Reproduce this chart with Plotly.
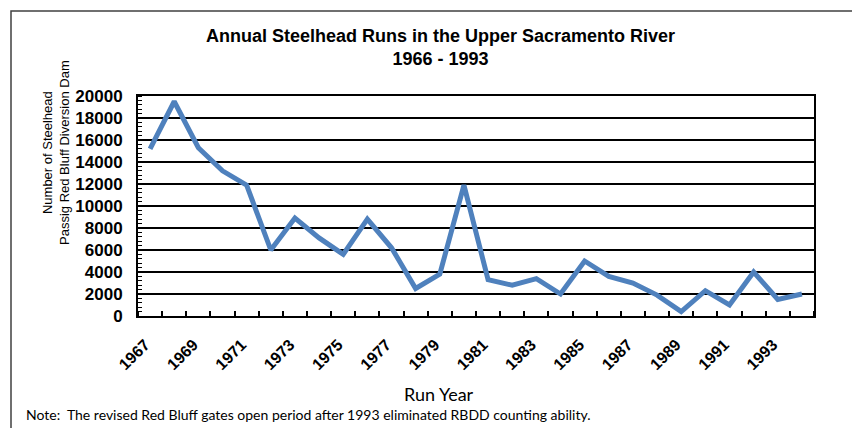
import plotly.graph_objects as go

years = list(range(1967, 1995))
runs = [15200, 19500, 15300, 13200, 11900, 6000, 8900, 7100, 5600, 8800,
        6200, 2500, 3800, 11900, 3300, 2800, 3400, 2000, 5000, 3600,
        3000, 1900, 400, 2300, 1000, 4000, 1500, 2000]
label_years = list(range(1967, 1995, 2))
label_text = [str(y) for y in label_years]
y_ticks = list(range(0, 20001, 2000))
y_text = [str(v) for v in y_ticks]

OFF = 8  # page body margin
W, H = 860 - OFF, 428 - OFF
L, R, T, B = 138 - OFF, 814 - OFF, 96 - OFF, 316 - OFF


def px(x):
    return (x - OFF - L) / (R - L)


def py(y):
    return (B - (y - OFF)) / (B - T)


fig = go.Figure()
fig.add_trace(go.Scatter(
    x=years, y=runs, mode="lines",
    line=dict(color="#4F81BD", width=5),
    showlegend=False, hoverinfo="x+y",
))

fig.update_layout(
    width=W, height=H,
    margin=dict(l=L, r=W - R, t=T, b=H - B, autoexpand=False),
    paper_bgcolor="white", plot_bgcolor="white",
    font=dict(family="Arial, Liberation Sans, sans-serif", color="black"),
    xaxis=dict(
        range=[1966.5, 1994.5],
        tickmode="array", tickvals=label_years, ticktext=label_text,
        tickangle=-45,
        tickfont=dict(family="Arial, Liberation Sans", size=16, color="black", weight="bold"),
        ticks="", showgrid=False, zeroline=False,
        showline=True, linecolor="black", linewidth=2, mirror=True,
        ticklabelstandoff=11, ticklabelshift=-5,
        minor=dict(tick0=0.5, dtick=1, ticks="inside", ticklen=5,
                   tickcolor="black", tickwidth=1.5, showgrid=False),
    ),
    yaxis=dict(
        range=[0, 20000],
        tickmode="array", tickvals=y_ticks, ticktext=y_text,
        tickfont=dict(family="Arial, Liberation Sans", size=17, color="black", weight="bold"),
        ticks="", showgrid=True, gridcolor="black", gridwidth=1.5,
        zeroline=False,
        showline=True, linecolor="black", linewidth=2, mirror=True,
        ticklabelstandoff=10,
        minor=dict(dtick=400, ticks="inside", ticklen=4,
                   tickcolor="black", tickwidth=1, showgrid=False),
    ),
    shapes=[
        dict(type="rect", xref="paper", yref="paper",
             x0=px(11), x1=px(900), y0=py(470), y1=py(11),
             line=dict(color="#404040", width=1.5), fillcolor="rgba(0,0,0,0)",
             layer="below"),
    ],
    annotations=[
        dict(text="<b>Annual Steelhead Runs in the Upper Sacramento River<br>1966 - 1993</b>",
             xref="paper", yref="paper", x=px(440), y=py(47),
             xanchor="center", yanchor="middle", showarrow=False,
             font=dict(family="Arial, Liberation Sans", size=18, color="black")),
        dict(text="Number of Steelhead<br>Passig Red Bluff Diversion Dam",
             xref="paper", yref="paper", x=px(56), y=py(153),
             xanchor="center", yanchor="middle", textangle=-90, showarrow=False,
             font=dict(family="Arial, Liberation Sans", size=13, color="black")),
        dict(text="Run Year",
             xref="paper", yref="paper", x=px(439), y=py(394),
             xanchor="center", yanchor="middle", showarrow=False,
             font=dict(family="Lato, Open Sans, sans-serif", size=18, color="black")),
        dict(text="Note:  The revised Red Bluff gates open period after 1993 eliminated RBDD counting ability.",
             xref="paper", yref="paper", x=px(24), y=py(414),
             xanchor="left", yanchor="middle", showarrow=False,
             font=dict(family="Lato, Open Sans, sans-serif", size=14, color="black")),
    ],
)

fig.write_html("out.html")
